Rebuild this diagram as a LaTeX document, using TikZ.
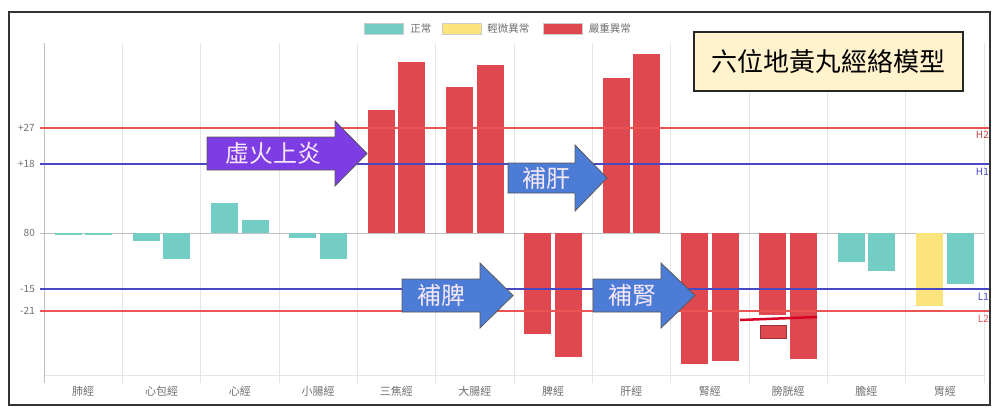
\documentclass[tikz,border=0pt]{standalone}
\usepackage{fontspec}
\setmainfont{Noto Sans CJK TC}
\usetikzlibrary{positioning}
\definecolor{okc}{RGB}{115,205,197}
\definecolor{mildc}{RGB}{252,228,125}
\definecolor{badc}{RGB}{222,72,78}
\definecolor{hic}{RGB}{236,84,84}
\definecolor{loc}{RGB}{72,72,196}
\definecolor{firec}{RGB}{126,60,228}
\definecolor{tonec}{RGB}{76,124,214}
\definecolor{titlec}{RGB}{255,242,204}
\definecolor{axisc}{RGB}{110,110,110}
\definecolor{cureink}{RGB}{246,232,246}

\begin{document}
\begin{tikzpicture}[x=1pt, y=-1pt,
  grid/.style={draw=black!10, line width=0.8},
  level/.style={line width=2},
  tick/.style={font=\fontsize{10}{12}\selectfont, text=axisc, anchor=east, inner sep=1},
  tag/.style={font=\fontsize{10}{12}\selectfont, anchor=east, inner sep=1},
  cat/.style={font=\fontsize{11}{13}\selectfont, text=axisc},
  legbox/.style={minimum width=39, minimum height=11, inner sep=0, draw=white!80!black, line width=0.5},
  key/.style={font=\fontsize{10.5}{12}\selectfont, text=axisc, inner sep=0},
  cure/.style={draw=black!65, line width=0.8},
  curetext/.style={font=\fontsize{24}{28}\selectfont, text=cureink, inner sep=0}
]
  \useasboundingbox (0,0) rectangle (1000,418);

  % Grid and axes
  \foreach \i in {1,...,12}
    \draw[grid] ({44+78.33*\i},43) -- ({44+78.33*\i},383);
  \draw[grid] (44,375) -- (984,375);
  \draw[draw=black!25, line width=0.8] (44,43) -- (44,383);
  \draw[draw=black!25, line width=0.8] (40,233) -- (984,233);

  % Bars (category / first end / second end / colours)
  \foreach \i/\a/\b/\ca/\cb in {0/235/235/okc/okc, 1/241/259/okc/okc,
      2/203/220/okc/okc, 3/238/259/okc/okc, 4/110/62/badc/badc,
      5/87/65/badc/badc, 6/334/357/badc/badc, 7/78/54/badc/badc,
      8/364/361/badc/badc, 9/315/359/badc/badc, 10/262/271/okc/okc,
      11/306/284/mildc/okc} {
    \fill[\ca] ({44+78.33*\i+10.5},233) rectangle ({44+78.33*\i+37.5},\a);
    \fill[\cb] ({44+78.33*\i+41},233) rectangle ({44+78.33*\i+68},\b);
  }
  \filldraw[fill=badc, draw=badc!70!black, line width=0.5] (760,325) rectangle (786,338);

  % Level lines
  \draw[level, hic] (40,128) -- (990,128);
  \draw[level, loc] (40,164) -- (990,164);
  \draw[level, loc] (40,289) -- (990,289);
  \draw[level, hic] (40,311) -- (990,311);
  \draw[line width=2.5, red!85!blue] (740,320) -- (817,317);

  % Axis texts
  \node[tick] (p27) at (36,128) {+27};
  \node[tick] (p18) at (36,164) {+18};
  \node[tick] (zero) at (36,233) {80};
  \node[tick] (m15) at (36,289) {-15};
  \node[tick] (m21) at (36,311) {-21};
  \node[tag, text=hic!80!black] (h2) at (990,135) {H2};
  \node[tag, text=loc] (h1) at (990,172) {H1};
  \node[tag, text=loc] (l1) at (990,297) {L1};
  \node[tag, text=hic] (l2) at (990,319) {L2};
  \foreach \n [count=\i from 0] in {肺經,心包經,心經,小腸經,三焦經,大腸經,脾經,肝經,腎經,膀胱經,膽經,胃經}
    \node[cat] (c\i) at ({44+78.33*\i+39.17},391) {\n};

  % Legend
  \node[legbox, fill=okc] (kok) at (383.5,28.5) {};
  \node[key, right=7 of kok] (tok) {正常};
  \node[legbox, fill=mildc] (kmild) at (461.5,28.5) {};
  \node[key, right=6 of kmild] (tmild) {輕微異常};
  \node[legbox, fill=badc] (kbad) at (563,28.5) {};
  \node[key, right=6 of kbad] (tbad) {嚴重異常};

  % Title
  \node[draw=black!85, line width=1.2, fill=titlec, minimum width=269, minimum height=59,
    font=\fontsize{26}{30}\selectfont] (title) at (828.5,61.5) {六位地黃丸經絡模型};

  % Block arrows
  \filldraw[cure, fill=firec] (207,137) -- (335,137) -- (335,121) -- (367,153.5)
    -- (335,186) -- (335,170) -- (207,170) -- cycle;
  \node[curetext] (fire) at (273,153.5) {虛火上炎};
  \filldraw[cure, fill=tonec] (508,163) -- (575,163) -- (575,145) -- (607,178)
    -- (575,211) -- (575,193) -- (508,193) -- cycle;
  \node[curetext] (liver) at (546,178) {補肝};
  \filldraw[cure, fill=tonec] (402,279) -- (480,279) -- (480,263) -- (513,295.5)
    -- (480,328) -- (480,312) -- (402,312) -- cycle;
  \node[curetext] (spleen) at (441,295.5) {補脾};
  \filldraw[cure, fill=tonec] (593,279) -- (661,279) -- (661,263) -- (695,295.5)
    -- (661,328) -- (661,312) -- (593,312) -- cycle;
  \node[curetext] (kidney) at (632,295.5) {補腎};

  % Frame
  \draw[line width=2.5, draw=black!80] (9,12) rectangle (990,405);
\end{tikzpicture}
\end{document}
